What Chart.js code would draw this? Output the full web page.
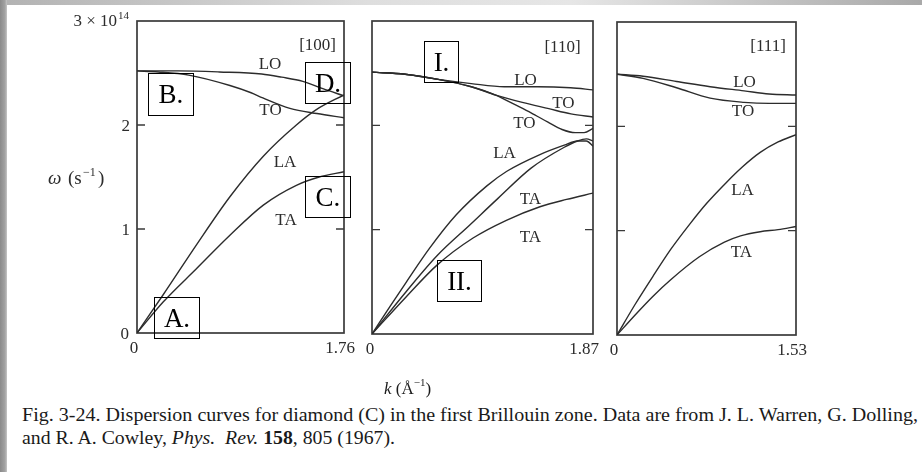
<!DOCTYPE html>
<html>
<head>
<meta charset="utf-8">
<script src="https://cdn.jsdelivr.net/npm/chart.js@4.4.1/dist/chart.umd.min.js"></script>
<style>
  html, body { margin: 0; padding: 0; }
  body {
    width: 922px; height: 472px; position: relative; overflow: hidden;
    background: #fff; color: #1c1c1c;
    font-family: "Liberation Serif", "Times New Roman", serif;
  }
  #topband { position: absolute; left: 0; top: 0; width: 922px; height: 5px;
    background: linear-gradient(to right, #b2b2b2, #dedede 40%, #e6e6e6 62%, #a9a9a9); }
  #leftband { position: absolute; left: 0; top: 0; width: 7px; height: 472px;
    background: linear-gradient(to right, #8a8a8a, #a2a2a2 70%, #c6c6c6); }
  canvas { position: absolute; top: 0; }
  .tag { position: absolute; box-sizing: border-box; border: 1px solid #000;
    font-size: 27px; line-height: 1; color: #000;
    display: flex; align-items: center; justify-content: center; }
  .axis-title { position: absolute; font-size: 17px; white-space: nowrap; }
  .axis-title sup { font-size: 11px; position: relative; top: -1px; }
  .cap { position: absolute; left: 22px; white-space: nowrap; font-size: 18px;
    transform-origin: 0 0; color: #1a1a1a; }
</style>
</head>
<body>
<div id="topband"></div>
<div id="leftband"></div>

<canvas id="p100" width="362" height="372" style="left:0px"></canvas>
<canvas id="p110" width="258" height="372" style="left:352px"></canvas>
<canvas id="p111" width="222" height="372" style="left:600px"></canvas>

<div class="tag" style="left:154px;top:297px;width:46px;height:42px">A.</div>
<div class="tag" style="left:148px;top:73px;width:46px;height:43px">B.</div>
<div class="tag" style="left:305px;top:176px;width:46px;height:42px">C.</div>
<div class="tag" style="left:305px;top:62px;width:46px;height:42px">D.</div>
<div class="tag" style="left:424px;top:41px;width:35px;height:42px">I.</div>
<div class="tag" style="left:437px;top:260px;width:45px;height:42px">II.</div>

<div class="axis-title" id="ktitle" style="left:384px;top:377px"><i>k</i> (Å<sup>−1</sup>)</div>

<div class="cap" id="cap1" style="top:405px">Fig. 3-24. Dispersion curves for diamond (C) in the first Brillouin zone. Data are from J. L. Warren, G. Dolling,</div>
<div class="cap" id="cap2" style="top:428px">and R. A. Cowley, <i>Phys.&nbsp; Rev.</i> <b>158</b>, 805 (1967).</div>

<script>
// Phonon branches of diamond; k in Å^-1, ω in units of 10^14 s^-1.

// [100] direction (Γ to X)
const k100LO = [0, 0.35, 0.70, 1.06, 1.23, 1.41, 1.58, 1.76];
const w100LO = [2.52, 2.52, 2.51, 2.49, 2.46, 2.42, 2.35, 2.28];
const k100TO = [0, 0.18, 0.44, 0.79, 0.97, 1.07, 1.30, 1.53, 1.76];
const w100TO = [2.52, 2.51, 2.48, 2.38, 2.31, 2.26, 2.16, 2.11, 2.07];
const k100LA = [0, 0.224, 0.507, 0.790, 1.074, 1.355, 1.528, 1.76];
const w100LA = [0, 0.37, 0.85, 1.31, 1.70, 2.00, 2.15, 2.29];
const k100TA = [0, 0.224, 0.507, 0.790, 1.074, 1.355, 1.549, 1.76];
const w100TA = [0, 0.30, 0.62, 0.94, 1.23, 1.42, 1.50, 1.55];

// [110] direction
const k110LO = [0, 0.28, 0.56, 0.84, 1.12, 1.40, 1.68, 1.87];
const w110LO = [2.51, 2.49, 2.44, 2.40, 2.37, 2.37, 2.36, 2.34];
const k110TO1 = [0, 0.28, 0.56, 0.84, 1.047, 1.272, 1.496, 1.683, 1.87];
const w110TO1 = [2.51, 2.49, 2.44, 2.37, 2.29, 2.22, 2.16, 2.11, 2.08];
const k110TO2 = [0, 0.28, 0.56, 0.84, 1.047, 1.206, 1.346, 1.489, 1.608, 1.720, 1.795, 1.87];
const w110TO2 = [2.51, 2.49, 2.44, 2.37, 2.29, 2.20, 2.12, 2.03, 1.96, 1.93, 1.93, 1.97];
const k110LA = [0, 0.150, 0.292, 0.486, 0.711, 0.972, 1.141, 1.421, 1.627, 1.739, 1.814, 1.87];
const w110LA = [0, 0.26, 0.50, 0.82, 1.14, 1.42, 1.56, 1.72, 1.81, 1.85, 1.85, 1.80];
const k110TA1 = [0, 0.292, 0.550, 0.832, 1.066, 1.346, 1.627, 1.739, 1.814, 1.87];
const w110TA1 = [0, 0.41, 0.75, 1.05, 1.30, 1.59, 1.79, 1.85, 1.87, 1.85];
const k110TA2 = [0, 0.292, 0.550, 0.855, 1.137, 1.421, 1.646, 1.87];
const w110TA2 = [0, 0.36, 0.66, 0.92, 1.09, 1.22, 1.29, 1.35];

// [111] direction (Γ to L)
const k111LO = [0, 0.223, 0.509, 0.796, 1.086, 1.30, 1.53];
const w111LO = [2.50, 2.48, 2.43, 2.38, 2.34, 2.31, 2.30];
const k111TO = [0, 0.223, 0.509, 0.796, 1.086, 1.30, 1.53];
const w111TO = [2.50, 2.46, 2.37, 2.27, 2.23, 2.22, 2.22];
const k111LA = [0, 0.153, 0.306, 0.459, 0.627, 0.765, 0.933, 1.071, 1.224, 1.377, 1.53];
const w111LA = [0, 0.29, 0.56, 0.82, 1.07, 1.26, 1.46, 1.61, 1.75, 1.85, 1.92];
const k111TA = [0, 0.153, 0.306, 0.459, 0.704, 0.918, 1.056, 1.224, 1.377, 1.53];
const w111TA = [0, 0.19, 0.37, 0.53, 0.75, 0.89, 0.95, 0.99, 1.01, 1.04];

// axis ranges and tick labels
const kMax = [1.76, 1.87, 1.53];
const kTickLabels = [['0', '1.76'], ['0', '1.87'], ['0', '1.53']];
const wTicks = [0, 1, 2, 3];
const wTickLabels = ['0', '1', '2', '3 × 10'];
const directions = ['[100]', '[110]', '[111]'];

const pts = (ks, ws) => ks.map((k, i) => ({ x: k, y: ws[i] }));
const INK = '#2c2c2c';
const SERIF = '"Liberation Serif", "Times New Roman", serif';

const panelDecor = {
  id: 'panelDecor',
  beforeDatasetsDraw(chart, args, o) {
    const { ctx, chartArea: a, scales: { y } } = chart;
    ctx.save();
    ctx.strokeStyle = '#3a3a3a';
    ctx.lineWidth = 1.7;
    ctx.strokeRect(a.left, a.top, a.right - a.left, a.bottom - a.top);
    ctx.lineWidth = 1.4;
    [1, 2].forEach(v => {
      const py = y.getPixelForValue(v);
      ctx.beginPath();
      ctx.moveTo(a.left, py); ctx.lineTo(a.left + 8, py);
      ctx.moveTo(a.right - 8, py); ctx.lineTo(a.right, py);
      ctx.stroke();
    });
    ctx.restore();
  },
  afterDatasetsDraw(chart, args, o) {
    const { ctx, chartArea: a, scales: { x, y } } = chart;
    ctx.save();
    ctx.fillStyle = INK;
    ctx.font = '17px ' + SERIF;
    ctx.textBaseline = 'alphabetic';
    ctx.textAlign = 'center';

    // k tick labels under the frame
    const kt = [0, o.kMax];
    kt.forEach((v, i) => {
      ctx.fillText(o.kLabels[i], x.getPixelForValue(v) + o.kShift[i], a.bottom + 20);
    });

    // direction and branch names
    ctx.fillText(o.dir[0], x.getPixelForValue(o.dir[1]), y.getPixelForValue(o.dir[2]) + 6);
    o.notes.forEach(n => {
      ctx.fillText(n[0], x.getPixelForValue(n[1]), y.getPixelForValue(n[2]) + 6);
    });

    if (o.showW) {
      ctx.textAlign = 'right';
      wTicks.forEach((v, i) => {
        const py = y.getPixelForValue(v);
        if (v === 3) {
          ctx.font = '17px ' + SERIF;
          ctx.fillText(wTickLabels[i], a.left - 20, py + 5);
          ctx.font = '11px ' + SERIF;
          ctx.textAlign = 'left';
          ctx.fillText('14', a.left - 19, py - 2);
          ctx.textAlign = 'right';
        } else {
          ctx.font = '17px ' + SERIF;
          ctx.fillText(wTickLabels[i], a.left - 7 - (v === 0 ? 1 : 0), py + 6);
        }
      });
      // ω (s^-1) title
      const ty = y.getPixelForValue(1.5) + 7;
      ctx.textAlign = 'left';
      ctx.font = 'italic 19px ' + SERIF;
      ctx.fillText('ω', 48, ty);
      ctx.font = '19px ' + SERIF;
      ctx.fillText('(s', 68, ty);
      ctx.font = '12px ' + SERIF;
      ctx.fillText('−1', 83, ty - 8);
      ctx.font = '19px ' + SERIF;
      ctx.fillText(')', 98, ty);
    }
    ctx.restore();
  }
};

function branch(ks, ws) {
  return {
    data: pts(ks, ws),
    borderColor: INK,
    borderWidth: 1.4,
    pointRadius: 0,
    fill: false,
    cubicInterpolationMode: 'monotone'
  };
}

function makePanel(id, idx, pad, datasets, notes, dirPos, kShift, showW) {
  return new Chart(document.getElementById(id), {
    type: 'line',
    data: { datasets },
    options: {
      responsive: false,
      animation: false,
      events: [],
      layout: { padding: pad },
      scales: {
        x: { type: 'linear', min: 0, max: kMax[idx], display: false },
        y: { type: 'linear', min: 0, max: 3, display: false }
      },
      plugins: {
        legend: { display: false },
        tooltip: { enabled: false },
        panelDecor: {
          kMax: kMax[idx],
          kLabels: kTickLabels[idx],
          kShift,
          dir: [directions[idx], dirPos[0], dirPos[1]],
          notes,
          showW
        }
      }
    },
    plugins: [panelDecor]
  });
}

makePanel('p100', 0, { left: 137, top: 21, right: 18, bottom: 39 }, [
  branch(k100LO, w100LO), branch(k100TO, w100TO),
  branch(k100LA, w100LA), branch(k100TA, w100TA)
], [
  ['LO', 1.131, 2.60], ['TO', 1.135, 2.154], ['LA', 1.258, 1.654], ['TA', 1.267, 1.096]
], [1.535, 2.78], [-3, -4], true);

makePanel('p110', 1, { left: 20, top: 21, right: 17, bottom: 38 }, [
  branch(k110LO, w110LO), branch(k110TO1, w110TO1), branch(k110TO2, w110TO2),
  branch(k110LA, w110LA), branch(k110TA1, w110TA1), branch(k110TA2, w110TA2)
], [
  ['LO', 1.299, 2.445], ['TO', 1.620, 2.228], ['TO', 1.290, 2.030],
  ['LA', 1.121, 1.740], ['TA', 1.341, 1.308], ['TA', 1.341, 0.939]
], [1.612, 2.765], [-2, -9], false);

makePanel('p111', 2, { left: 17, top: 22, right: 26, bottom: 37 }, [
  branch(k111LO, w111LO), branch(k111TO, w111TO),
  branch(k111LA, w111LA), branch(k111TA, w111TA)
], [
  ['LO', 1.090, 2.435], ['TO', 1.077, 2.157], ['LA', 1.073, 1.399], ['TA', 1.064, 0.805]
], [1.291, 2.775], [-3, -4], false);

// caption lines are set to their column widths
function fitCaption() {
  [['cap1', 896], ['cap2', 373]].forEach(([id, w]) => {
    const el = document.getElementById(id);
    el.style.transform = 'none';
    const nat = el.getBoundingClientRect().width;
    if (nat > 0) el.style.transform = 'scaleX(' + (w / nat) + ')';
  });
}
fitCaption();
if (document.fonts && document.fonts.ready) document.fonts.ready.then(fitCaption);
</script>
</body>
</html>
